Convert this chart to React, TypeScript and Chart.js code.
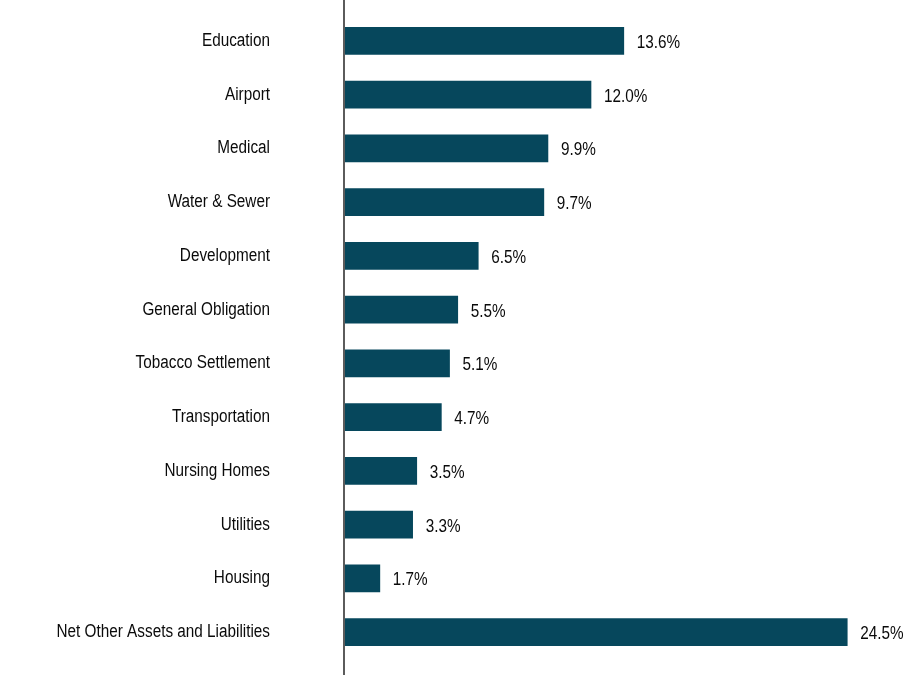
import React, { useEffect, useRef } from "react";
import { Chart, registerables } from "chart.js";

Chart.register(...registerables);

const categories = [
  "Education",
  "Airport",
  "Medical",
  "Water & Sewer",
  "Development",
  "General Obligation",
  "Tobacco Settlement",
  "Transportation",
  "Nursing Homes",
  "Utilities",
  "Housing",
  "Net Other Assets and Liabilities",
];
const values = [13.6, 12.0, 9.9, 9.7, 6.5, 5.5, 5.1, 4.7, 3.5, 3.3, 1.7, 24.5];

const FONT = "'Liberation Sans', Arial, sans-serif";
const FONT_SIZE = 18;
const SQUEEZE = 0.85;
const BAR_COLOR = "#06475C";

const axisLinePlugin = {
  id: "axisLine",
  afterDraw(chart: any) {
    const { ctx, chartArea } = chart;
    ctx.save();
    ctx.strokeStyle = "#333333";
    ctx.lineWidth = 1.6;
    ctx.beginPath();
    ctx.moveTo(chartArea.left - 1, 0);
    ctx.lineTo(chartArea.left - 1, chart.height);
    ctx.stroke();
    ctx.restore();
  },
};

function narrowText(ctx: any, text: string, x: number, y: number, align: string) {
  ctx.save();
  ctx.translate(x, y);
  ctx.scale(SQUEEZE, 1);
  ctx.textAlign = align;
  ctx.fillText(text, 0, 0);
  ctx.restore();
}

const labelPlugin = {
  id: "labels",
  afterDatasetsDraw(chart: any) {
    const { ctx, chartArea } = chart;
    const meta = chart.getDatasetMeta(0);
    ctx.save();
    ctx.fillStyle = "#0a0a0a";
    ctx.font = `${FONT_SIZE}px ${FONT}`;
    ctx.textBaseline = "middle";
    meta.data.forEach((bar: any, i: number) => {
      narrowText(ctx, values[i].toFixed(1) + "%", bar.x + 13, bar.y + 2, "left");
      narrowText(ctx, categories[i], chartArea.left - 75, bar.y, "right");
    });
    ctx.restore();
  },
};

export default function App() {
  const ref = useRef<HTMLCanvasElement | null>(null);
  useEffect(() => {
    if (!ref.current) return;
    const chart = new Chart(ref.current, {
      type: "bar",
      data: {
        labels: categories,
        datasets: [
          {
            data: values,
            backgroundColor: BAR_COLOR,
            barThickness: 27,
          },
        ],
      },
      options: {
        indexAxis: "y",
        animation: false,
        responsive: false,
        maintainAspectRatio: false,
        layout: { padding: { top: 14, bottom: 16, left: 345, right: 11.5 } },
        plugins: { legend: { display: false }, tooltip: { enabled: false } },
        scales: {
          x: { display: false, min: 0, max: 27 },
          y: { display: false },
        },
      },
      plugins: [axisLinePlugin, labelPlugin],
    });
    return () => chart.destroy();
  }, []);
  return (
    <div style={{ position: "fixed", left: 0, top: 0, width: 910, height: 675, background: "#fff" }}>
      <canvas ref={ref} width={910} height={675} />
    </div>
  );
}
